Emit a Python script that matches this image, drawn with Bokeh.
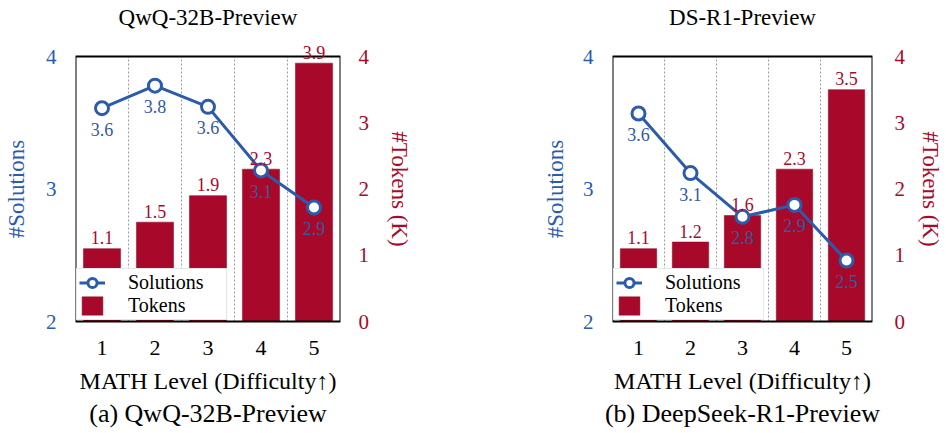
from bokeh.plotting import figure
from bokeh.models import (Range1d, LinearAxis, FixedTicker, Legend, LegendItem,
                          ColumnDataSource, Title, Label)
from bokeh.layouts import row
from bokeh.embed import file_html
from bokeh.resources import INLINE

# ---- data ----
levels = [1, 2, 3, 4, 5]
qwq_solutions = [3.61, 3.78, 3.62, 3.14, 2.86]
qwq_tokens = [1.1, 1.5, 1.9, 2.3, 3.9]
ds_solutions = [3.57, 3.12, 2.79, 2.88, 2.46]
ds_tokens = [1.1, 1.2, 1.6, 2.3, 3.5]
solution_ticks = [2, 3, 4]
token_ticks = [0, 1, 2, 3, 4]
panel_titles = ["QwQ-32B-Preview", "DS-R1-Preview"]
captions = ["(a) QwQ-32B-Preview", "(b) DeepSeek-R1-Preview"]
x_label = "MATH Level (Difficulty\u2191)"
left_label = "#Solutions"
right_label = "#Tokens (K)"

BLUE = "#2B5BAA"
BLUE_TXT = "#34599E"
RED = "#A8092B"
FONT = "Liberation Serif"

BOX_PX = 265   # visible plot box height
PAD_PX = 11    # extra (unboxed) frame room above and below so value labels are not clipped


def make_panel(title, caption, sol, tok, width, bl, br, lt, ll, rt, rl):
    s0, s1 = solution_ticks[0], solution_ticks[-1]
    t0, t1 = token_ticks[0], token_ticks[-1]
    x0, x1 = levels[0] - 0.5, levels[-1] + 0.5
    sp = PAD_PX * (s1 - s0) / BOX_PX
    tp = PAD_PX * (t1 - t0) / BOX_PX
    p = figure(width=width, height=433, x_range=Range1d(x0, x1), y_range=Range1d(s0 - sp, s1 + sp),
               output_backend="svg", toolbar_location=None,
               min_border_left=bl, min_border_right=br,
               min_border_top=56 - PAD_PX, min_border_bottom=112 - PAD_PX)
    p.extra_y_ranges = {"tok": Range1d(t0 - tp, t1 + tp)}
    p.background_fill_color = "white"
    p.border_fill_color = "white"
    p.outline_line_color = None

    # title (outermost) + spacer between title and frame
    p.title.text = title
    p.title.align = "center"
    p.title.text_font = FONT
    p.title.text_font_size = "23px"
    p.title.text_font_style = "normal"
    p.title.text_color = "black"
    p.title.standoff = 0
    spacer = Title(text=" ", text_font_size="1px", standoff=24 - PAD_PX, text_color="white")
    p.add_layout(spacer, "above")

    p.xgrid.visible = False
    p.ygrid.visible = False

    xa = p.xaxis[0]
    xa.ticker = FixedTicker(ticks=levels)
    xa.axis_label = x_label
    ya = p.yaxis[0]
    ya.ticker = FixedTicker(ticks=solution_ticks)
    ya.axis_label = left_label
    ra = LinearAxis(y_range_name="tok", ticker=FixedTicker(ticks=token_ticks), axis_label=right_label)
    p.add_layout(ra, "right")

    for ax in (xa, ya, ra):
        ax.axis_line_color = None
        ax.major_tick_line_color = None
        ax.minor_tick_line_color = None
        ax.major_label_text_font = FONT
        ax.axis_label_text_font = FONT
        ax.axis_label_text_font_style = "normal"
        ax.axis_label_text_font_size = "23px"
    xa.major_label_text_font_size = "22px"
    xa.major_label_text_color = "black"
    xa.major_label_standoff = 13 - PAD_PX
    xa.axis_label_standoff = 10
    xa.axis_label_text_font_size = "24px"
    xa.axis_label_text_color = "black"
    ya.major_label_text_font_size = "21px"
    ya.major_label_text_color = BLUE
    ya.axis_label_text_color = BLUE
    ya.major_label_standoff = lt
    ya.axis_label_standoff = ll
    ra.major_label_text_font_size = "21px"
    ra.major_label_text_color = RED
    ra.axis_label_text_color = RED
    ra.major_label_standoff = rt
    ra.axis_label_standoff = rl

    # dotted separators between difficulty levels
    mids = [(a + b) / 2 for a, b in zip(levels, levels[1:])]
    p.segment(x0=mids, x1=mids, y0=s0, y1=s1, line_color="#9a9a9a", line_dash="2 2", line_width=1)

    src = ColumnDataSource(dict(x=levels, sol=sol, tok=tok))

    bars = p.vbar(x="x", top="tok", bottom=0, width=0.7, source=src, y_range_name="tok",
                  fill_color=RED, line_color="#8a0622", line_width=0.5)

    # plot box (after the bars, so it is drawn over them)
    p.quad(left=[x0], right=[x1], bottom=[s0], top=[s1], fill_color=None,
           line_color="black", line_width=2)

    ln = p.line(x="x", y="sol", source=src, line_color=BLUE, line_width=3)
    sc = p.scatter(x="x", y="sol", source=src, marker="circle", size=13,
                   fill_color="white", line_color=BLUE, line_width=3)

    for xv, tv in zip(levels, tok):
        p.add_layout(Label(x=xv, y=tv, y_range_name="tok", text=f"{tv:.1f}",
                           text_align="center", text_baseline="middle", y_offset=11,
                           text_font=FONT, text_font_size="18px", text_color=RED))
    for xv, sv in zip(levels, sol):
        p.add_layout(Label(x=xv, y=sv, text=f"{sv:.1f}",
                           text_align="center", text_baseline="middle", y_offset=-21,
                           text_font=FONT, text_font_size="18px", text_color=BLUE_TXT))

    legend = Legend(items=[LegendItem(label="Solutions", renderers=[ln, sc]),
                           LegendItem(label="Tokens", renderers=[bars])],
                    location=(1, PAD_PX + 1), margin=0, padding=2, spacing=0,
                    glyph_width=26, glyph_height=23, label_height=23, label_width=96,
                    label_standoff=23,
                    label_text_font=FONT, label_text_font_size="20px", label_text_color="black",
                    background_fill_color="white", background_fill_alpha=1.0,
                    border_line_color="#d0d0d0", border_line_width=1)
    p.add_layout(legend)

    cap = Title(text=caption, align="center", text_font=FONT, text_font_size="26px",
                text_font_style="normal", text_color="black", standoff=0)
    p.add_layout(cap, "below")
    return p


p1 = make_panel(panel_titles[0], captions[0], qwq_solutions, qwq_tokens, 475, 75, 135, 13, 14, 12, 15)
p2 = make_panel(panel_titles[1], captions[1], ds_solutions, ds_tokens, 471, 137, 69, 13, 12, 16, 10)
layout = row(p1, p2)

open("out.html", "w").write(file_html(layout, INLINE))
